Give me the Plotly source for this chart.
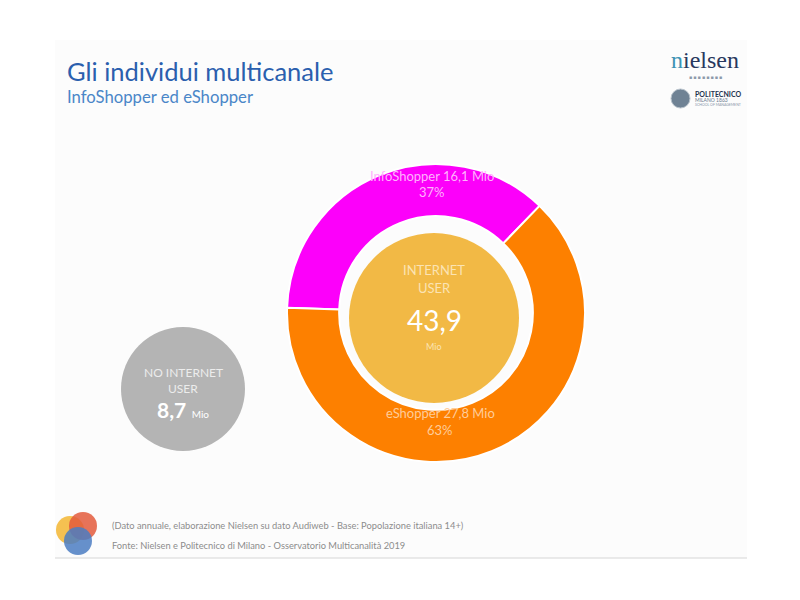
# ---------- LIBRARIES ---------- #
import plotly.graph_objects as go

# ---------- DATA ---------- #
segments = ["InfoShopper", "eShopper"]
segment_mio = [16.1, 27.8]
segment_colors = ["#fc00fa", "#fd8000"]
internet_user_mio = 43.9
no_internet_mio = 8.7

title = "Gli individui multicanale"
subtitle = "InfoShopper ed eShopper"
note_lines = [
    "(Dato annuale, elaborazione Nielsen su dato Audiweb - Base: Popolazione italiana 14+)",
    "Fonte: Nielsen e Politecnico di Milano - Osservatorio Multicanalità 2019",
]

W, H = 800, 600
OFF = 8  # page body margin
FONT = "Lato"


def it(v):
    # italian decimal comma
    return f"{v:.1f}".replace(".", ",")


def px(x, y):
    # screenshot pixel -> paper coords
    return (x - OFF) / W, 1 - (y - OFF) / H


def dom(cx, cy, r):
    x0, y1 = px(cx - r, cy - r)
    x1, y0 = px(cx + r, cy + r)
    return dict(x=[x0, x1], y=[y0, y1])


def box(x0, y0, x1, y1):
    a, d = px(x0, y0)
    c, b = px(x1, y1)
    return dict(xref="paper", yref="paper", x0=a, x1=c, y0=b, y1=d)


def label(x, y, text, size, color, family=FONT, **kw):
    ax, ay = px(x, y)
    fig.add_annotation(x=ax, y=ay, xref="paper", yref="paper", text=text,
                       showarrow=False, font=dict(family=family, size=size, color=color),
                       xanchor=kw.pop("xanchor", "center"), yanchor=kw.pop("yanchor", "middle"), **kw)


fig = go.Figure()

# outer ring: InfoShopper / eShopper
fig.add_trace(go.Pie(
    labels=segments, values=segment_mio, hole=0.65, sort=False,
    direction="clockwise", rotation=272,
    marker=dict(colors=segment_colors, line=dict(color="white", width=2)),
    textinfo="none", hoverinfo="skip", domain=dom(436, 313, 149),
))
# inner circle: internet users
fig.add_trace(go.Pie(
    labels=["INTERNET USER"], values=[internet_user_mio], sort=False,
    marker=dict(colors=["#f2b945"]), textinfo="none", hoverinfo="skip",
    domain=dom(434, 318, 85),
))
# grey circle: no internet users
fig.add_trace(go.Pie(
    labels=["NO INTERNET USER"], values=[no_internet_mio], sort=False,
    marker=dict(colors=["#b4b4b4"]), textinfo="none", hoverinfo="skip",
    domain=dom(183, 389, 62),
))

# slide background + bottom rule
fig.add_shape(type="rect", **box(55, 40, 747, 558), fillcolor="#fcfcfc", line_width=0, layer="below")
fig.add_shape(type="line", **box(55, 558, 747, 558), line=dict(color="#d6d6d6", width=1))

# bottom-left logo (three circles)
for cx, cy, col in [(70, 530, "#f3b632"), (83, 526, "#e35a3c"), (78, 541, "#4b7dc2")]:
    fig.add_shape(type="circle", **box(cx - 14, cy - 14, cx + 14, cy + 14),
                  fillcolor=col, opacity=0.85, line_width=0)

# politecnico emblem
fig.add_shape(type="circle", **box(671, 89, 690, 108),
              fillcolor="#6f8294", line=dict(color="#b9c3cc", width=1))

# titles
label(65, 71, title, 25.5, "#2b5fae", xanchor="left")
label(65, 97, subtitle, 16.7, "#4a86c8", xanchor="left")

# nielsen logo
label(705, 60, "<span style='color:#3d93b4'>n</span>ielsen", 24, "#28385e", family="Liberation Serif")
label(705, 77, "■ ■ ■ ■ ■ ■ ■ ■", 5, "#8c99aa")
label(693, 94, "<b>POLITECNICO</b>", 7, "#23324f", xanchor="left")
label(693, 100, "MILANO 1863", 5, "#6b7a8e", xanchor="left")
label(693, 105, "SCHOOL OF MANAGEMENT", 3.5, "#8896a8", xanchor="left")

# ring labels
total = sum(segment_mio)
label(432, 176, f"{segments[0]} {it(segment_mio[0])} Mio", 13, "#ffb3fd")
label(432, 192, f"{segment_mio[0] / total:.0%}", 13, "#ffb3fd")
label(440, 413, f"{segments[1]} {it(segment_mio[1])} Mio", 13, "#ffcc99")
label(440, 430, f"{segment_mio[1] / total:.0%}", 13, "#ffcc99")

# inner circle labels
label(434, 270, "INTERNET", 13, "#fbe3b3")
label(434, 288, "USER", 13, "#fbe3b3")
label(434, 339, it(internet_user_mio), 28, "#ffffff", yanchor="bottom")
label(434, 339, "Mio", 9, "#fbe3b3", yanchor="top")

# grey circle labels
label(183, 373, "NO INTERNET", 12, "#ececec")
label(183, 388, "USER", 12, "#ececec")
label(183, 409, f"<b>{it(no_internet_mio)}</b> <span style='font-size:10px'>Mio</span>", 21, "#ffffff")

# footer
label(110, 525, note_lines[0], 9.3, "#8c8c8c", xanchor="left")
label(110, 545, note_lines[1], 9.3, "#8c8c8c", xanchor="left")

fig.update_layout(
    width=W, height=H, margin=dict(l=0, r=0, t=0, b=0),
    paper_bgcolor="white", plot_bgcolor="white", showlegend=False,
    font=dict(family=FONT),
)
fig.write_html("out.html")
